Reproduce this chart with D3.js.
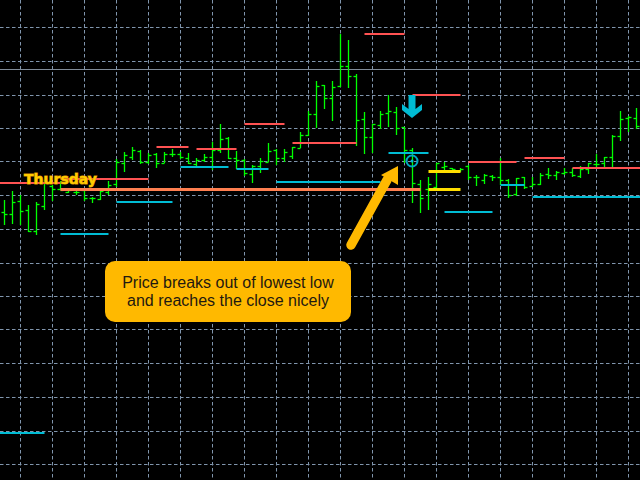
<!DOCTYPE html>
<html>
<head>
<meta charset="utf-8">
<script src="https://cdn.jsdelivr.net/npm/d3@7.9.0/dist/d3.min.js"></script>
<style>
  html, body { margin: 0; padding: 0; background: #000; overflow: hidden; }
  svg { display: block; }
</style>
</head>
<body>
<svg id="chart" width="640" height="480"></svg>
<script>
// all values, in chart units counted down from the top
const opens  = [212,214,201,210,231,206,186,189,192,192,190,198,199,192,184,163,157,151,162,154,163,154,154,158,164,160,157,150,138,158,160,174,166,162,150,158,156,148,135,114,85,98,86,66,76,119,137,125,113,112,127,150,184,189,187,167,168,171,166,177,180,176,177,180,194,177,186,184,174,175,173,172,176,169,164,163,157,136,118,118];
const highs  = [200,191,195,205,202,180,185,181,188,190,190,197,191,181,159,152,147,150,153,153,152,149,152,153,158,154,142,124,137,151,159,165,158,143,149,149,147,132,111,81,85,81,34,40,74,112,124,111,95,107,127,148,180,177,163,162,168,168,165,175,174,175,158,179,178,177,177,173,168,171,168,168,166,163,154,157,135,111,116,108];
const lows   = [225,224,225,232,235,210,201,190,193,195,201,203,200,195,187,172,160,164,164,168,163,157,159,164,167,162,170,153,159,169,176,183,173,162,165,162,159,148,136,128,109,121,87,88,146,154,153,129,127,135,163,203,213,210,188,171,172,172,180,186,184,181,185,198,196,189,187,185,179,180,175,177,178,174,167,167,167,141,132,129];
const closes = [214,202,211,231,204,183,189,190,190,192,198,198,191,185,162,155,150,162,155,163,154,154,157,163,160,157,150,139,158,160,173,166,161,151,158,152,147,135,114,86,98,87,66,76,120,137,124,114,111,128,150,183,198,184,163,166,169,169,177,177,175,177,180,195,178,187,184,175,175,172,172,175,169,163,164,157,136,119,117,126];

// levels: first bar, last bar, value
const redStart = [-1,7,19,24,30,36,45,51,58,65,71];
const redEnd   = [7,18,23,29,35,44,50,57,64,70,80];
const redLevel = [183,179,147,149,124,143,34,95,162,158,168];

const cyanStart = [7,14,22,29,34,48,55,62,66,-1];
const cyanEnd   = [13,21,28,33,47,53,61,65,80,5];
const cyanLevel = [234,202,167,169,182,153,212,185,197,433];

const orangeStart = [7];
const orangeEnd   = [52];
const orangeLevel = [189.5];

const yellowStart = [53,53];
const yellowEnd   = [57,57];
const yellowLevel = [171.5,189.5];

const gridValues = [27,61,95,128,161,195,229,263,296,329,363,397,431,464];
const solidLevel = 69;
const signalBar = 51;

const svg = d3.select("#chart");
const width = 640, height = 480;

let xScale = d3.scaleLinear().domain([0, 79]).range([4.5, 636.5]);
let yScale = d3.scaleLinear().domain([0, 480]).range([0, 480]);

svg.append("rect").attr("width", width).attr("height", height).attr("fill", "#000");

// grid, vertical lines sit on every 4th bar
const gridColor = "#8095ad";
svg.append("g").selectAll("line")
  .data(d3.range(2, 80, 4))
  .enter().append("line")
    .attr("x1", d => xScale(d)).attr("x2", d => xScale(d))
    .attr("y1", 0).attr("y2", height)
    .attr("stroke", gridColor)
    .attr("stroke-dasharray", "3.5,2.5");
svg.append("g").selectAll("line")
  .data(gridValues)
  .enter().append("line")
    .attr("x1", 0).attr("x2", width)
    .attr("y1", d => yScale(d) + 0.5).attr("y2", d => yScale(d) + 0.5)
    .attr("stroke", gridColor)
    .attr("stroke-dasharray", "3.5,2.5");
svg.append("line")
  .attr("x1", 0).attr("x2", width)
  .attr("y1", yScale(solidLevel) + 0.5).attr("y2", yScale(solidLevel) + 0.5)
  .attr("stroke", "#7f8b99");

// OHLC bars
const bars = svg.append("g").attr("stroke", "#00ff00").attr("stroke-width", 1.3)
  .selectAll("g")
  .data(d3.range(opens.length))
  .enter().append("g");
bars.append("line")
  .attr("x1", d => xScale(d)).attr("x2", d => xScale(d))
  .attr("y1", d => yScale(highs[d])).attr("y2", d => yScale(lows[d]));
bars.append("line")
  .attr("x1", d => xScale(d) - 3).attr("x2", d => xScale(d))
  .attr("y1", d => yScale(opens[d]) + 0.5).attr("y2", d => yScale(opens[d]) + 0.5);
bars.append("line")
  .attr("x1", d => xScale(d)).attr("x2", d => xScale(d) + 3)
  .attr("y1", d => yScale(closes[d]) + 0.5).attr("y2", d => yScale(closes[d]) + 0.5);

function drawLevels(starts, ends, levels, color, thick) {
  svg.append("g").selectAll("line")
    .data(levels)
    .enter().append("line")
      .attr("x1", (d, i) => xScale(starts[i]))
      .attr("x2", (d, i) => xScale(ends[i]))
      .attr("y1", d => yScale(d)).attr("y2", d => yScale(d))
      .attr("stroke", color)
      .attr("stroke-width", thick);
}
drawLevels(redStart, redEnd, redLevel, "#ff5252", 2);
drawLevels(cyanStart, cyanEnd, cyanLevel, "#00bcd4", 2);
drawLevels(orangeStart, orangeEnd, orangeLevel, "#ff7f50", 3);
drawLevels(yellowStart, yellowEnd, yellowLevel, "#ffdd00", 3);

// signal arrow and target above/on the breakout bar
const sx = xScale(signalBar);
svg.append("path")
  .attr("transform", `translate(${sx - 0.5},${yScale(118)})`)
  .attr("d", "M-3.5,-23 L3.5,-23 L3.5,-9 L10,-14 L10,-8 L0,0 L-10,-8 L-10,-14 L-3.5,-9 Z")
  .attr("fill", "#00bcd4");
svg.append("circle")
  .attr("cx", sx - 0.5).attr("cy", yScale(161))
  .attr("r", 5.5).attr("fill", "none")
  .attr("stroke", "#00a9c4").attr("stroke-width", 2);
svg.append("circle")
  .attr("cx", sx - 0.5).attr("cy", yScale(161))
  .attr("r", 1.5).attr("fill", "#00bcd4");

// Day label, the stroke copy gives the soft orange edge
svg.append("text")
  .attr("x", 24).attr("y", 184)
  .attr("font-family", "DejaVu Sans")
  .attr("font-weight", "bold")
  .attr("font-size", "14px")
  .attr("fill", "#ffcc00")
  .attr("stroke", "#d98a00")
  .attr("stroke-width", 1)
  .attr("paint-order", "stroke")
  .text("Thursday");

// Callout arrow
svg.append("line")
  .attr("x1", 351).attr("y1", 245)
  .attr("x2", 387).attr("y2", 180)
  .attr("stroke", "#ffb900").attr("stroke-width", 9.5)
  .attr("stroke-linecap", "round");
svg.append("path")
  .attr("d", "M398,166 L381,175 L398,185 Z")
  .attr("fill", "#ffb900");

// Callout box
svg.append("rect")
  .attr("x", 105).attr("y", 261)
  .attr("width", 246).attr("height", 61)
  .attr("rx", 10)
  .attr("fill", "#ffb900");
svg.append("text")
  .attr("x", 228).attr("y", 288)
  .attr("text-anchor", "middle")
  .attr("font-family", "Liberation Sans")
  .attr("font-size", "16px")
  .attr("fill", "#1f1a10")
  .text("Price breaks out of lowest low");
svg.append("text")
  .attr("x", 228).attr("y", 306)
  .attr("text-anchor", "middle")
  .attr("font-family", "Liberation Sans")
  .attr("font-size", "16px")
  .attr("fill", "#1f1a10")
  .text("and reaches the close nicely");
</script>
</body>
</html>
